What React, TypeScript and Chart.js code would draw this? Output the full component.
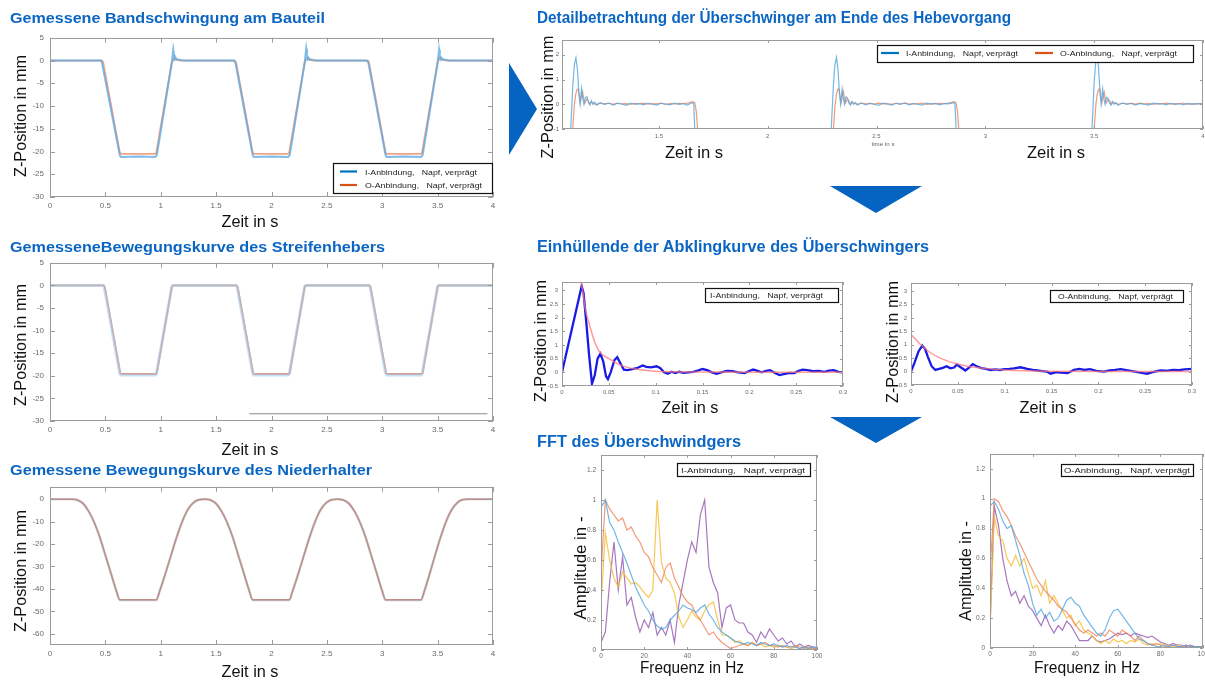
import React, { useEffect, useRef } from 'react';
import { Chart, registerables } from 'chart.js';
Chart.register(...registerables);

type Pt = [number, number];

// ---------- Tick labels ----------
const LEFT_X_TICKS = [0, 0.5, 1, 1.5, 2, 2.5, 3, 3.5, 4];
const BAND_Y_TICKS = [-30, -25, -20, -15, -10, -5, 0, 5];
const NIEDER_Y_TICKS = [-60, -50, -40, -30, -20, -10, 0];
const DETAIL_X_TICKS = [1.5, 2, 2.5, 3, 3.5, 4];
const DETAIL_Y_TICKS = [-1, 0, 1, 2];
const ENV_X_TICKS = [0, 0.05, 0.1, 0.15, 0.2, 0.25, 0.3];
const ENV_Y_TICKS = [-0.5, 0, 0.5, 1, 1.5, 2, 2.5, 3];
const FFT_X_TICKS = [0, 20, 40, 60, 80, 100];
const FFT_Y_TICKS = [0, 0.2, 0.4, 0.6, 0.8, 1, 1.2];

// ---------- Gemessene Bandschwingung am Bauteil ----------
const BAND_I: Pt[] = [[0,0],[0.46,0],[0.47,-0.5],[0.63,-20.8],[0.64,-21.2],[0.8,-21.1],[0.95,-21.2],[0.965,-20.8],[1.1,-0.5],[1.113,2.4],[1.12,1.2],[1.127,0.3],[1.135,0.6],[1.145,0.2],[1.16,0.25],[1.2,0],[1.66,0],[1.675,-0.5],[1.83,-20.8],[1.84,-21.2],[2.0,-21.1],[2.15,-21.2],[2.165,-20.8],[2.3,-0.5],[2.313,2.6],[2.32,1.3],[2.327,0.3],[2.335,0.6],[2.345,0.2],[2.36,0.25],[2.4,0],[2.86,0],[2.875,-0.5],[3.03,-20.8],[3.04,-21.2],[3.2,-21.1],[3.35,-21.2],[3.365,-20.8],[3.5,-0.5],[3.513,2.4],[3.52,1.2],[3.527,0.3],[3.535,0.6],[3.545,0.2],[3.56,0.25],[3.6,0],[4,0]];
const BAND_O: Pt[] = [[0,0],[0.47,0],[0.48,-0.4],[0.63,-20.2],[0.64,-20.5],[0.95,-20.5],[0.96,-20.2],[1.1,-0.3],[1.12,0.5],[1.14,0.2],[1.18,0],[1.67,0],[1.68,-0.4],[1.83,-20.2],[1.84,-20.5],[2.15,-20.5],[2.16,-20.2],[2.3,-0.3],[2.32,0.5],[2.34,0.2],[2.38,0],[2.87,0],[2.88,-0.4],[3.03,-20.2],[3.04,-20.5],[3.35,-20.5],[3.36,-20.2],[3.5,-0.3],[3.52,0.5],[3.54,0.2],[3.58,0],[4,0]];

// ---------- Bewegungskurve Streifenheber ----------
const STREIF_I: Pt[] = [[0,0],[0.48,0],[0.49,-0.4],[0.63,-19.5],[0.64,-19.8],[0.95,-19.8],[0.96,-19.5],[1.1,-0.3],[1.11,0],[1.68,0],[1.69,-0.4],[1.83,-19.5],[1.84,-19.8],[2.15,-19.8],[2.16,-19.5],[2.3,-0.3],[2.31,0],[2.88,0],[2.89,-0.4],[3.03,-19.5],[3.04,-19.8],[3.35,-19.8],[3.36,-19.5],[3.5,-0.3],[3.51,0],[4,0]];
const STREIF_O: Pt[] = [[0,0],[0.485,0],[0.495,-0.4],[0.635,-19.4],[0.645,-19.6],[0.955,-19.6],[0.965,-19.4],[1.1,-0.3],[1.11,0],[1.685,0],[1.695,-0.4],[1.835,-19.4],[1.845,-19.6],[2.155,-19.6],[2.165,-19.4],[2.3,-0.3],[2.31,0],[2.885,0],[2.895,-0.4],[3.035,-19.4],[3.045,-19.6],[3.355,-19.6],[3.365,-19.4],[3.5,-0.3],[3.51,0],[4,0]];
const STREIF_REF: Pt[] = [[1.8,-28.4],[3.95,-28.4]];

// ---------- Bewegungskurve Niederhalter ----------
const NIEDER_I: Pt[] = [[0,0],[0.2,0],[0.25,-0.4],[0.3,-2],[0.35,-5.5],[0.4,-10.5],[0.45,-17],[0.5,-25],[0.55,-33],[0.6,-41],[0.63,-45],[0.96,-45],[0.99,-41],[1.04,-33.5],[1.09,-25.5],[1.14,-17.5],[1.19,-10.5],[1.24,-5],[1.29,-1.8],[1.34,-0.3],[1.4,0],[1.45,-0.4],[1.5,-2],[1.55,-5.5],[1.6,-10.5],[1.65,-17],[1.7,-25],[1.75,-33],[1.8,-41],[1.83,-45],[2.16,-45],[2.19,-41],[2.24,-33.5],[2.29,-25.5],[2.34,-17.5],[2.39,-10.5],[2.44,-5],[2.49,-1.8],[2.54,-0.3],[2.6,0],[2.65,-0.4],[2.7,-2],[2.75,-5.5],[2.8,-10.5],[2.85,-17],[2.9,-25],[2.95,-33],[3.0,-41],[3.03,-45],[3.35,-45],[3.38,-41],[3.43,-33],[3.48,-24.5],[3.53,-16.5],[3.58,-9.5],[3.63,-4.5],[3.68,-1.5],[3.72,-0.3],[3.77,0],[4,0]];
const NIEDER_O: Pt[] = [[0,0],[0.2,0],[0.25,-0.4],[0.3,-2],[0.35,-5.5],[0.4,-10.4],[0.45,-17],[0.5,-25],[0.55,-33],[0.6,-41],[0.63,-44.8],[0.96,-44.8],[0.99,-41],[1.04,-33.5],[1.09,-25.5],[1.14,-17.5],[1.19,-10.5],[1.24,-5],[1.29,-1.8],[1.34,-0.3],[1.4,0],[1.45,-0.4],[1.5,-2],[1.55,-5.5],[1.6,-10.5],[1.65,-17],[1.7,-25],[1.75,-33],[1.8,-41],[1.83,-44.8],[2.16,-44.8],[2.19,-41],[2.24,-33.5],[2.29,-25.5],[2.34,-17.5],[2.39,-10.5],[2.44,-5],[2.49,-1.8],[2.54,-0.3],[2.6,0],[2.65,-0.4],[2.7,-2],[2.75,-5.5],[2.8,-10.5],[2.85,-17],[2.9,-25],[2.95,-33],[3.0,-41],[3.03,-44.8],[3.35,-44.8],[3.38,-41],[3.43,-33],[3.48,-24.5],[3.53,-16.5],[3.58,-9.5],[3.63,-4.5],[3.68,-1.5],[3.72,-0.3],[3.77,0],[4,0]];

// ---------- Detailbetrachtung ----------
const DETAIL_I: Pt[] = [[1.06,-4],[1.095,-1],[1.105,0.8],[1.112,1.6],[1.119,1.88],[1.126,1.4],[1.133,0.4],[1.138,0.02],[1.145,0.65],[1.151,0.2],[1.156,0.0],[1.163,0.28],[1.17,0.3],[1.176,0.08],[1.183,-0.02],[1.19,0.15],[1.197,0.0],[1.205,0.08],[1.215,-0.04],[1.23,0.06],[1.25,0.0],[1.27,0.05],[1.29,-0.03],[1.31,0.04],[1.33,0.01],[1.35,-0.04],[1.37,0.05],[1.39,0.0],[1.41,0.03],[1.43,-0.02],[1.45,0.05],[1.47,0.0],[1.49,-0.03],[1.51,0.04],[1.53,0.01],[1.55,-0.02],[1.57,0.05],[1.59,0.0],[1.61,0.03],[1.63,-0.03],[1.65,0.05],[1.66,0.06],[1.665,-1],[1.67,-4],
  [2.28,-4],[2.292,-1],[2.302,0.8],[2.309,1.6],[2.316,1.9],[2.323,1.4],[2.33,0.4],[2.335,0.02],[2.342,0.62],[2.348,0.2],[2.353,0.0],[2.36,0.3],[2.367,0.25],[2.373,0.05],[2.38,-0.03],[2.387,0.12],[2.394,0.0],[2.403,0.07],[2.413,-0.03],[2.43,0.05],[2.45,-0.02],[2.47,0.04],[2.49,0.0],[2.51,-0.04],[2.53,0.05],[2.55,0.01],[2.57,-0.03],[2.59,0.04],[2.61,0.0],[2.63,0.05],[2.65,-0.02],[2.67,0.03],[2.69,0.0],[2.71,-0.03],[2.73,0.05],[2.75,0.01],[2.77,0.04],[2.79,-0.02],[2.81,0.03],[2.83,0.02],[2.85,0.06],[2.86,0.07],[2.866,-1],[2.87,-4],
  [3.48,-4],[3.49,-1],[3.5,0.9],[3.507,1.7],[3.513,2.0],[3.52,1.5],[3.527,0.45],[3.532,0.02],[3.539,0.62],[3.545,0.2],[3.55,0.0],[3.557,0.28],[3.564,0.25],[3.57,0.05],[3.577,-0.03],[3.584,0.12],[3.591,0.0],[3.6,0.07],[3.61,-0.04],[3.63,0.05],[3.65,0.0],[3.67,0.04],[3.69,-0.03],[3.71,0.03],[3.73,0.0],[3.75,-0.03],[3.77,0.05],[3.79,0.01],[3.81,0.03],[3.83,-0.02],[3.85,0.04],[3.87,0.0],[3.89,0.03],[3.91,-0.02],[3.93,0.04],[3.95,0.0],[3.97,0.03],[4.0,0.01]];
const DETAIL_O: Pt[] = [[1.06,-4],[1.104,-1],[1.112,0.0],[1.118,0.4],[1.124,0.6],[1.13,0.62],[1.135,0.3],[1.139,0.05],[1.145,0.35],[1.15,0.5],[1.155,0.2],[1.16,0.05],[1.167,0.2],[1.175,0.15],[1.182,0.0],[1.19,0.08],[1.2,0.04],[1.21,-0.01],[1.23,0.05],[1.25,0.02],[1.27,0.04],[1.29,0.0],[1.31,0.05],[1.33,0.02],[1.35,0.03],[1.37,0.0],[1.39,0.04],[1.41,0.02],[1.43,0.05],[1.45,0.01],[1.47,0.03],[1.49,0.02],[1.51,0.05],[1.53,0.0],[1.55,0.03],[1.57,0.02],[1.59,0.04],[1.61,0.03],[1.63,0.05],[1.645,0.08],[1.655,0.11],[1.665,0.07],[1.672,-0.3],[1.678,-1],[1.685,-4],
  [2.28,-4],[2.302,-1],[2.31,0.0],[2.316,0.4],[2.322,0.6],[2.328,0.62],[2.333,0.3],[2.337,0.05],[2.343,0.35],[2.348,0.52],[2.353,0.2],[2.358,0.05],[2.365,0.2],[2.373,0.15],[2.38,0.0],[2.388,0.08],[2.398,0.04],[2.41,0.0],[2.43,0.05],[2.45,0.02],[2.47,0.04],[2.49,0.01],[2.51,0.05],[2.53,0.02],[2.55,0.03],[2.57,0.0],[2.59,0.04],[2.61,0.02],[2.63,0.05],[2.65,0.01],[2.67,0.03],[2.69,0.02],[2.71,0.05],[2.73,0.0],[2.75,0.03],[2.77,0.02],[2.79,0.04],[2.81,0.03],[2.83,0.05],[2.845,0.08],[2.855,0.11],[2.865,0.07],[2.872,-0.3],[2.878,-1],[2.885,-4],
  [3.48,-4],[3.5,-1],[3.508,0.0],[3.514,0.4],[3.52,0.6],[3.526,0.62],[3.531,0.3],[3.535,0.05],[3.541,0.35],[3.546,0.5],[3.551,0.2],[3.556,0.05],[3.563,0.2],[3.571,0.15],[3.578,0.0],[3.586,0.08],[3.596,0.04],[3.61,0.0],[3.63,0.05],[3.65,0.02],[3.67,0.04],[3.69,0.01],[3.71,0.05],[3.73,0.02],[3.75,0.03],[3.77,0.0],[3.79,0.04],[3.81,0.02],[3.83,0.05],[3.85,0.01],[3.87,0.03],[3.89,0.02],[3.91,0.05],[3.93,0.0],[3.95,0.03],[3.97,0.02],[4.0,0.04]];

// ---------- Einhüllende ----------
const ENV_I_MEAS: Pt[] = [[0,0],[0.005,0.75],[0.01,1.5],[0.015,2.25],[0.02,3.0],[0.021,3.15],[0.023,2.9],[0.026,1.8],[0.029,0.6],[0.032,-0.42],[0.035,-0.1],[0.038,0.5],[0.041,0.68],[0.044,0.4],[0.047,-0.15],[0.049,-0.25],[0.052,0.0],[0.056,0.45],[0.059,0.55],[0.062,0.35],[0.066,0.1],[0.07,0.08],[0.075,0.12],[0.08,0.15],[0.086,0.25],[0.09,0.2],[0.095,0.18],[0.101,0.22],[0.105,0.15],[0.109,0.0],[0.113,-0.05],[0.117,0.02],[0.121,-0.03],[0.125,0.02],[0.13,-0.02],[0.135,0.0],[0.14,0.02],[0.145,0.06],[0.15,0.12],[0.155,0.08],[0.16,0.0],[0.165,-0.05],[0.17,0.0],[0.176,0.05],[0.182,0.04],[0.188,0.0],[0.195,-0.03],[0.2,0.05],[0.204,0.1],[0.208,0.06],[0.213,0.0],[0.218,0.05],[0.222,0.08],[0.226,0.0],[0.232,-0.1],[0.238,-0.06],[0.243,-0.02],[0.248,-0.03],[0.252,0.05],[0.257,0.1],[0.262,0.08],[0.268,0.04],[0.274,0.05],[0.28,0.02],[0.285,0.06],[0.29,0.08],[0.295,0.02],[0.3,0.0]];
const ENV_I_FIT: Pt[] = [[0.02,3.35],[0.022,3.0],[0.025,2.3],[0.028,1.9],[0.03,1.65],[0.035,1.1],[0.04,0.75],[0.045,0.6],[0.05,0.5],[0.055,0.4],[0.06,0.3],[0.07,0.18],[0.08,0.11],[0.09,0.07],[0.1,0.04],[0.12,0.02],[0.15,0.01],[0.2,0.0],[0.3,0.0]];
const ENV_O_MEAS: Pt[] = [[0,0],[0.004,0.35],[0.008,0.75],[0.012,0.97],[0.015,0.85],[0.018,0.55],[0.022,0.2],[0.026,0.06],[0.03,0.1],[0.034,0.14],[0.038,0.2],[0.042,0.12],[0.046,0.15],[0.049,0.26],[0.053,0.16],[0.058,0.04],[0.062,0.15],[0.066,0.28],[0.07,0.2],[0.075,0.13],[0.08,0.1],[0.085,0.06],[0.09,0.08],[0.095,0.06],[0.1,0.09],[0.105,0.1],[0.11,0.12],[0.117,0.16],[0.124,0.1],[0.13,0.06],[0.135,0.04],[0.14,0.02],[0.145,0.0],[0.149,-0.08],[0.155,-0.02],[0.16,-0.04],[0.167,-0.06],[0.174,0.06],[0.18,0.1],[0.185,0.06],[0.191,0.09],[0.198,0.03],[0.206,0.0],[0.212,0.04],[0.218,0.06],[0.224,0.09],[0.23,0.05],[0.236,0.02],[0.242,-0.02],[0.248,-0.06],[0.252,-0.08],[0.258,-0.02],[0.266,0.04],[0.272,0.03],[0.28,0.06],[0.286,0.05],[0.292,0.08],[0.3,0.1]];
const ENV_O_FIT: Pt[] = [[0,1.38],[0.01,1.02],[0.02,0.72],[0.03,0.52],[0.04,0.38],[0.05,0.28],[0.06,0.2],[0.07,0.15],[0.08,0.11],[0.1,0.06],[0.12,0.03],[0.15,0.015],[0.2,0.005],[0.3,0.0]];

// ---------- FFT ----------
const FFT_FREQ = [0,2,4,6,8,10,12,14,16,18,20,22,24,26,28,30,32,34,36,38,40,42,44,46,48,50,52,54,56,58,60,62,64,66,68,70,72,74,76,78,80,82,84,86,88,90,92,94,96,98,100];
const FFT_I_BLUE = [0.95,1.0,0.85,0.8,0.72,0.65,0.58,0.5,0.42,0.36, 0.3,0.26,0.2,0.16,0.14,0.15,0.2,0.23,0.26,0.3, 0.28,0.27,0.25,0.28,0.3,0.24,0.2,0.15,0.12,0.1, 0.08,0.06,0.05,0.04,0.05,0.04,0.03,0.05,0.04,0.03, 0.04,0.03,0.02,0.03,0.02,0.02,0.01,0.02,0.01,0.02, 0.01];
const FFT_I_ORANGE = [0.5,1.0,0.94,0.9,0.86,0.88,0.8,0.82,0.76,0.72, 0.65,0.62,0.55,0.5,0.45,0.55,0.58,0.48,0.42,0.36, 0.32,0.3,0.24,0.2,0.15,0.1,0.12,0.08,0.05,0.03, 0.01,0.02,0.03,0.04,0.03,0.05,0.03,0.04,0.05,0.03, 0.03,0.02,0.03,0.02,0.02,0.03,0.02,0.01,0.02,0.01, 0.01];
const FFT_I_YELLOW = [0.3,0.78,0.6,0.48,0.42,0.52,0.48,0.44,0.45,0.42, 0.38,0.35,0.4,1.0,0.58,0.48,0.45,0.38,0.22,0.15, 0.2,0.26,0.22,0.2,0.26,0.3,0.32,0.2,0.1,0.1, 0.08,0.05,0.06,0.04,0.03,0.05,0.03,0.04,0.02,0.03, 0.02,0.03,0.02,0.02,0.01,0.02,0.01,0.02,0.01,0.01, 0.01];
const FFT_I_PURPLE = [0.05,0.12,0.45,0.72,0.4,0.62,0.3,0.35,0.22,0.12, 0.2,0.15,0.25,0.1,0.15,0.1,0.2,0.05,0.3,0.45, 0.6,0.72,0.65,0.9,1.0,0.55,0.45,0.38,0.15,0.28, 0.3,0.2,0.18,0.18,0.12,0.1,0.05,0.12,0.08,0.14, 0.1,0.06,0.08,0.04,0.06,0.02,0.04,0.02,0.03,0.02, 0.02];
const FFT_O_BLUE = [0.95,0.98,0.93,0.85,0.8,0.82,0.72,0.62,0.5,0.42, 0.3,0.22,0.26,0.2,0.24,0.18,0.2,0.26,0.32,0.34, 0.3,0.28,0.22,0.18,0.14,0.1,0.08,0.12,0.2,0.25, 0.26,0.22,0.18,0.14,0.1,0.06,0.05,0.03,0.02,0.01, 0.01,0.02,0.01,0.02,0.01,0.01,0.02,0.01,0.01,0.01, 0.01];
const FFT_O_ORANGE = [0.5,1.0,0.98,0.92,0.88,0.82,0.75,0.7,0.64,0.58, 0.52,0.46,0.42,0.38,0.35,0.32,0.28,0.26,0.24,0.2, 0.16,0.12,0.1,0.12,0.1,0.08,0.1,0.08,0.12,0.1, 0.08,0.12,0.1,0.08,0.05,0.08,0.05,0.03,0.02,0.03, 0.02,0.01,0.01,0.02,0.01,0.01,0.02,0.01,0.01,0.01, 0.01];
const FFT_O_YELLOW = [0.1,0.88,0.75,0.72,0.6,0.55,0.62,0.55,0.6,0.5, 0.4,0.42,0.35,0.45,0.3,0.35,0.3,0.25,0.2,0.22, 0.15,0.18,0.12,0.1,0.08,0.05,0.03,0.05,0.03,0.06, 0.04,0.05,0.03,0.05,0.04,0.06,0.03,0.02,0.03,0.02, 0.03,0.02,0.02,0.01,0.02,0.01,0.02,0.01,0.01,0.01, 0.01];
const FFT_O_PURPLE = [0.15,0.95,0.82,0.6,0.45,0.35,0.38,0.3,0.35,0.28, 0.25,0.2,0.15,0.22,0.15,0.1,0.15,0.12,0.18,0.15, 0.1,0.05,0.05,0.05,0.08,0.05,0.04,0.05,0.06,0.08, 0.1,0.09,0.1,0.08,0.1,0.09,0.08,0.07,0.08,0.06, 0.04,0.03,0.02,0.03,0.02,0.02,0.01,0.02,0.01,0.01, 0.01];

const LEGEND_I = 'I-Anbindung,   Napf, verprägt';
const LEGEND_O = 'O-Anbindung,   Napf, verprägt';

const TITLE_BLUE = '#0B66C3';
const FONT = '"Liberation Sans", Arial, sans-serif';

const C_BLUE = 'rgba(80,165,225,0.8)';
const C_ORANGE = 'rgba(238,130,90,0.8)';
const C_YELLOW = 'rgba(245,190,60,0.85)';
const C_PURPLE = 'rgba(150,95,180,0.85)';

const fftPts = (vals: number[]): Pt[] => FFT_FREQ.map((f, i) => [f, vals[i]] as Pt);

interface Series { pts: Pt[]; color: string; width: number; smooth?: boolean }
interface Spec {
  box: { l: number; t: number; r: number; b: number };
  xMin: number; xMax: number; yMin: number; yMax: number;
  xTicks: number[]; yTicks: number[]; tickFont: number; tickLen: number;
  xPad: number; yPad: number; series: Series[];
}

const PADL = 40, PADB = 22, PADT = 8, PADR = 14;

function Plot({ spec }: { spec: Spec }) {
  const ref = useRef<HTMLCanvasElement>(null);
  const w = spec.box.r - spec.box.l + PADL + PADR;
  const h = spec.box.b - spec.box.t + PADT + PADB;
  useEffect(() => {
    const boxPlugin = {
      id: 'mbox',
      afterDatasetsDraw(chart: any) {
        const { ctx, chartArea } = chart;
        const { left, top, right, bottom } = chartArea;
        const xs = chart.scales.x, ys = chart.scales.y;
        const L = spec.tickLen;
        ctx.save();
        ctx.strokeStyle = '#9c9c9c';
        ctx.lineWidth = 1;
        ctx.strokeRect(Math.round(left) + 0.5, Math.round(top) + 0.5, Math.round(right - left) - 1, Math.round(bottom - top) - 1);
        ctx.beginPath();
        spec.xTicks.forEach(v => {
          const px = Math.round(xs.getPixelForValue(v)) + 0.5;
          ctx.moveTo(px, bottom); ctx.lineTo(px, bottom - L);
          ctx.moveTo(px, top); ctx.lineTo(px, top + L);
        });
        spec.yTicks.forEach(v => {
          const py = Math.round(ys.getPixelForValue(v)) + 0.5;
          ctx.moveTo(left, py); ctx.lineTo(left + L, py);
          ctx.moveTo(right, py); ctx.lineTo(right - L, py);
        });
        ctx.stroke();
        ctx.restore();
      },
    };
    const tickOpts = {
      font: { size: spec.tickFont, family: FONT },
      color: '#6a6a6a',
      autoSkip: false,
      maxRotation: 0,
      minRotation: 0,
      callback: (v: any) => String(v),
    };
    const chart = new Chart(ref.current as HTMLCanvasElement, {
      type: 'scatter',
      data: {
        datasets: spec.series.map(s => ({
          data: s.pts.map(([x, y]) => ({ x, y })),
          showLine: true,
          borderColor: s.color,
          backgroundColor: s.color,
          borderWidth: s.width,
          pointRadius: 0,
          pointHoverRadius: 0,
          fill: false,
          tension: 0,
          cubicInterpolationMode: s.smooth ? 'monotone' : 'default',
        })),
      } as any,
      options: {
        animation: false,
        responsive: false,
        maintainAspectRatio: false,
        events: [],
        layout: { padding: { top: PADT, right: PADR, left: 0, bottom: 0 } },
        plugins: { legend: { display: false }, tooltip: { enabled: false } },
        scales: {
          x: {
            type: 'linear', min: spec.xMin, max: spec.xMax,
            grid: { display: false, drawTicks: false }, border: { display: false },
            ticks: { ...tickOpts, padding: spec.xPad },
            afterBuildTicks: (s: any) => { s.ticks = spec.xTicks.map(v => ({ value: v })); },
            afterFit: (s: any) => { s.height = PADB; },
          },
          y: {
            type: 'linear', min: spec.yMin, max: spec.yMax,
            grid: { display: false, drawTicks: false }, border: { display: false },
            ticks: { ...tickOpts, padding: spec.yPad },
            afterBuildTicks: (s: any) => { s.ticks = spec.yTicks.map(v => ({ value: v })); },
            afterFit: (s: any) => { s.width = PADL; },
          },
        },
      } as any,
      plugins: [boxPlugin],
    });
    return () => chart.destroy();
  }, []);
  return (
    <canvas
      ref={ref}
      width={w}
      height={h}
      style={{ position: 'absolute', left: spec.box.l - PADL, top: spec.box.t - PADT, width: w, height: h }}
    />
  );
}

const SPECS: Spec[] = [
  {
    box: { l: 50, t: 35, r: 493, b: 197 }, xMin: 0, xMax: 4, yMin: -30, yMax: 5,
    xTicks: LEFT_X_TICKS, yTicks: BAND_Y_TICKS, tickFont: 8, tickLen: 5, xPad: 4, yPad: 6,
    series: [
      { pts: BAND_I, color: 'rgba(95,170,228,0.8)', width: 2 },
      { pts: BAND_O, color: 'rgba(240,140,100,0.8)', width: 1.8 },
    ],
  },
  {
    box: { l: 50, t: 260, r: 493, b: 421 }, xMin: 0, xMax: 4, yMin: -30, yMax: 5,
    xTicks: LEFT_X_TICKS, yTicks: BAND_Y_TICKS, tickFont: 8, tickLen: 5, xPad: 4, yPad: 6,
    series: [
      { pts: STREIF_REF, color: '#8a8a8a', width: 1 },
      { pts: STREIF_I, color: 'rgba(160,205,238,0.6)', width: 3 },
      { pts: STREIF_O, color: 'rgba(242,140,108,1)', width: 1.8 },
    ],
  },
  {
    box: { l: 50, t: 484, r: 493, b: 645 }, xMin: 0, xMax: 4, yMin: -65, yMax: 5.5,
    xTicks: LEFT_X_TICKS, yTicks: NIEDER_Y_TICKS, tickFont: 8, tickLen: 5, xPad: 4, yPad: 6,
    series: [
      { pts: NIEDER_I, color: 'rgba(150,160,175,0.55)', width: 2.4, smooth: true },
      { pts: NIEDER_O, color: 'rgba(238,125,92,1)', width: 1.5, smooth: true },
    ],
  },
  {
    box: { l: 562, t: 40, r: 1203, b: 129 }, xMin: 1.055, xMax: 4, yMin: -1, yMax: 2.6,
    xTicks: DETAIL_X_TICKS, yTicks: DETAIL_Y_TICKS, tickFont: 6, tickLen: 3, xPad: 4, yPad: 3,
    series: [
      { pts: DETAIL_I, color: 'rgba(90,170,225,0.85)', width: 1.2 },
      { pts: DETAIL_O, color: 'rgba(238,135,100,0.85)', width: 1.2 },
    ],
  },
  {
    box: { l: 562, t: 282, r: 843, b: 386 }, xMin: 0, xMax: 0.3, yMin: -0.5, yMax: 3.3,
    xTicks: ENV_X_TICKS, yTicks: ENV_Y_TICKS, tickFont: 6, tickLen: 3, xPad: 3, yPad: 4,
    series: [
      { pts: ENV_I_FIT, color: 'rgba(255,120,120,0.75)', width: 1.5, smooth: true },
      { pts: ENV_I_MEAS, color: '#1a1ae6', width: 2.3 },
    ],
  },
  {
    box: { l: 911, t: 283, r: 1192, b: 385 }, xMin: 0, xMax: 0.3, yMin: -0.5, yMax: 3.3,
    xTicks: ENV_X_TICKS, yTicks: ENV_Y_TICKS, tickFont: 6, tickLen: 3, xPad: 3, yPad: 4,
    series: [
      { pts: ENV_O_FIT, color: 'rgba(255,120,120,0.75)', width: 1.5, smooth: true },
      { pts: ENV_O_MEAS, color: '#1a1ae6', width: 2.3 },
    ],
  },
  {
    box: { l: 601, t: 454, r: 817, b: 650 }, xMin: 0, xMax: 100, yMin: 0, yMax: 1.3,
    xTicks: FFT_X_TICKS, yTicks: FFT_Y_TICKS, tickFont: 6.5, tickLen: 3, xPad: 2, yPad: 5,
    series: [
      { pts: fftPts(FFT_I_BLUE), color: C_BLUE, width: 1.2 },
      { pts: fftPts(FFT_I_ORANGE), color: C_ORANGE, width: 1.2 },
      { pts: fftPts(FFT_I_YELLOW), color: C_YELLOW, width: 1.2 },
      { pts: fftPts(FFT_I_PURPLE), color: C_PURPLE, width: 1.2 },
    ],
  },
  {
    box: { l: 990, t: 453, r: 1203, b: 648 }, xMin: 0, xMax: 100, yMin: 0, yMax: 1.3,
    xTicks: FFT_X_TICKS, yTicks: FFT_Y_TICKS, tickFont: 6.5, tickLen: 3, xPad: 2, yPad: 5,
    series: [
      { pts: fftPts(FFT_O_BLUE), color: C_BLUE, width: 1.2 },
      { pts: fftPts(FFT_O_ORANGE), color: C_ORANGE, width: 1.2 },
      { pts: fftPts(FFT_O_YELLOW), color: C_YELLOW, width: 1.2 },
      { pts: fftPts(FFT_O_PURPLE), color: C_PURPLE, width: 1.2 },
    ],
  },
];

function T({ x, y, len, size, children, bold, color, anchor, rot }: any) {
  const common: any = {
    fontFamily: FONT,
    fontSize: size,
    fontWeight: bold ? 'bold' : 'normal',
    fill: color || '#111',
    textLength: len,
    lengthAdjust: 'spacingAndGlyphs',
    textAnchor: anchor || 'start',
    style: { whiteSpace: 'pre' },
  };
  if (rot) {
    return (
      <text {...common} x={0} y={0} transform={`translate(${x},${y}) rotate(-90)`} dominantBaseline="central">
        {children}
      </text>
    );
  }
  return <text {...common} x={x} y={y}>{children}</text>;
}

function Legend({ x, y, w, h, rows }: any) {
  return (
    <g>
      <rect x={x + 0.5} y={y + 0.5} width={w} height={h} fill="#fff" stroke="#111" strokeWidth={1.2} />
      {rows.map((r: any, i: number) => (
        <g key={i}>
          {r.line && <line x1={r.line[0]} x2={r.line[1]} y1={r.ly} y2={r.ly} stroke={r.color} strokeWidth={2.2} />}
          <T x={r.tx} y={r.ty} len={r.len} size={r.size || 8} color="#222">{r.text}</T>
        </g>
      ))}
    </g>
  );
}

export default function App() {
  return (
    <div style={{ position: 'fixed', left: 0, top: 0, width: 1205, height: 681, background: '#fff', overflow: 'hidden' }}>
      {SPECS.map((s, i) => <Plot key={i} spec={s} />)}
      <svg width={1205} height={681} style={{ position: 'absolute', left: 0, top: 0, pointerEvents: 'none' }}>
        {/* titles */}
        <T x={10} y={22.5} len={315} size={15} bold color={TITLE_BLUE}>Gemessene Bandschwingung am Bauteil</T>
        <T x={10} y={251.5} len={375} size={15} bold color={TITLE_BLUE}>GemesseneBewegungskurve des Streifenhebers</T>
        <T x={10} y={474.5} len={362} size={15} bold color={TITLE_BLUE}>Gemessene Bewegungskurve des Niederhalter</T>
        <T x={537} y={22.5} len={474} size={16} bold color={TITLE_BLUE}>Detailbetrachtung der Überschwinger am Ende des Hebevorgang</T>
        <T x={537} y={251.5} len={392} size={16} bold color={TITLE_BLUE}>Einhüllende der Abklingkurve des Überschwingers</T>
        <T x={537} y={446.5} len={204} size={16} bold color={TITLE_BLUE}>FFT des Überschwindgers</T>

        {/* y axis labels */}
        <T x={20} y={116} len={122} size={16} anchor="middle" rot>Z-Position in mm</T>
        <T x={20} y={345} len={122} size={16} anchor="middle" rot>Z-Position in mm</T>
        <T x={20} y={571} len={122} size={16} anchor="middle" rot>Z-Position in mm</T>
        <T x={547} y={97} len={123} size={16} anchor="middle" rot>Z-Position in mm</T>
        <T x={540} y={341} len={122} size={16} anchor="middle" rot>Z-Position in mm</T>
        <T x={892} y={342} len={122} size={16} anchor="middle" rot>Z-Position in mm</T>
        <T x={580} y={568} len={103} size={16} anchor="middle" rot>Amplitude in -</T>
        <T x={965} y={571} len={100} size={16} anchor="middle" rot>Amplitude in -</T>

        {/* x axis labels */}
        <T x={250} y={227} len={57} size={16} anchor="middle">Zeit in s</T>
        <T x={250} y={455} len={57} size={16} anchor="middle">Zeit in s</T>
        <T x={250} y={677} len={57} size={16} anchor="middle">Zeit in s</T>
        <T x={694} y={158} len={58} size={16} anchor="middle">Zeit in s</T>
        <T x={1056} y={158} len={58} size={16} anchor="middle">Zeit in s</T>
        <T x={690} y={413} len={57} size={16} anchor="middle">Zeit in s</T>
        <T x={1048} y={413} len={57} size={16} anchor="middle">Zeit in s</T>
        <T x={692} y={673} len={104} size={16} anchor="middle">Frequenz in Hz</T>
        <T x={1087} y={673} len={106} size={16} anchor="middle">Frequenz in Hz</T>
        <T x={883} y={146} len={23} size={5} anchor="middle" color="#666">time in s</T>

        {/* arrows */}
        <polygon points="509,63 509,155 537,109" fill="#0563C1" />
        <polygon points="830,186 922,186 876,213" fill="#0563C1" />
        <polygon points="830,417 922,417 876,443" fill="#0563C1" />

        {/* legends */}
        <Legend x={333} y={163} w={159} h={30} rows={[
          { line: [340, 357], ly: 171.5, color: '#0072BD', tx: 365, ty: 174.5, len: 112, text: LEGEND_I },
          { line: [340, 357], ly: 185, color: '#D95319', tx: 365, ty: 188, len: 117, text: LEGEND_O },
        ]} />
        <Legend x={877} y={45} w={316} h={17} rows={[
          { line: [881, 899], ly: 53, color: '#0072BD', tx: 906, ty: 56, len: 112, text: LEGEND_I },
          { line: [1035, 1053], ly: 53, color: '#D95319', tx: 1060, ty: 56, len: 117, text: LEGEND_O },
        ]} />
        <Legend x={705} y={288} w={133} h={14} rows={[
          { tx: 710, ty: 298, len: 113, text: LEGEND_I },
        ]} />
        <Legend x={1050} y={290} w={133} h={12} rows={[
          { tx: 1058, ty: 299, len: 115, text: LEGEND_O },
        ]} />
        <Legend x={677} y={463} w={133} h={13} rows={[
          { tx: 681, ty: 472.5, len: 124, text: LEGEND_I },
        ]} />
        <Legend x={1061} y={464} w={132} h={12} rows={[
          { tx: 1064, ty: 473, len: 126, text: LEGEND_O },
        ]} />
      </svg>
    </div>
  );
}
